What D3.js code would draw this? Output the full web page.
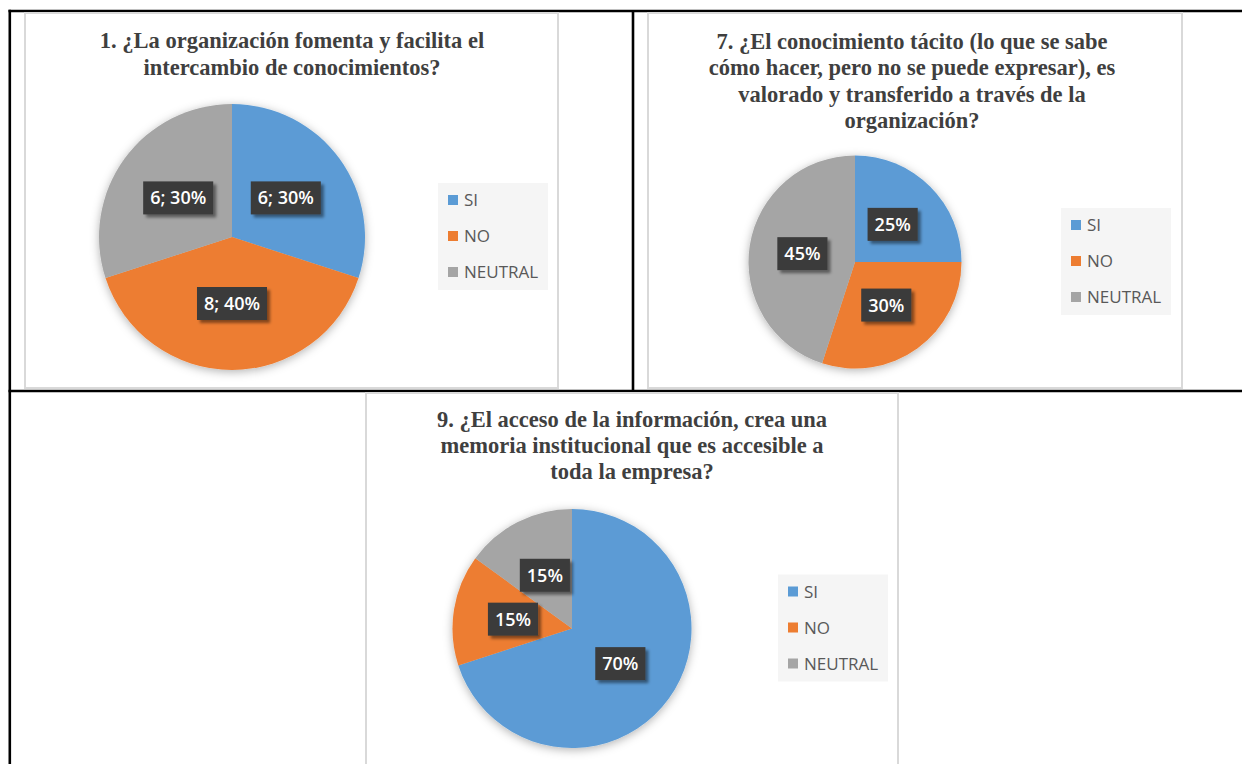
<!DOCTYPE html>
<html>
<head>
<meta charset="utf-8">
<script src="https://cdn.jsdelivr.net/npm/d3@7"></script>
<style>
  html, body { margin: 0; padding: 0; background: #fff; }
  svg { display: block; }
</style>
</head>
<body>
<svg id="sheet" width="1242" height="764"></svg>
<script>
// Answer categories shared by the three survey questions
const categories = ["SI", "NO", "NEUTRAL"];
const sliceColors = ["#5b9bd5", "#ed7d31", "#a5a5a5"];

// Question 1: respondent counts
const q1Title = ["1. ¿La organización fomenta y facilita el", "intercambio de conocimientos?"];
const q1Counts = [6, 8, 6];

// Question 7: percentages
const q7Title = [
  "7. ¿El conocimiento tácito (lo que se sabe",
  "cómo hacer, pero no se puede expresar), es",
  "valorado y transferido a través de la",
  "organización?"
];
const q7Percent = [25, 30, 45];

// Question 9: percentages
const q9Title = [
  "9. ¿El acceso de la información, crea una",
  "memoria institucional que es accesible a",
  "toda la empresa?"
];
const q9Percent = [70, 15, 15];

const svg = d3.select("#sheet");
const defs = svg.append("defs");

// soft halo under each pie
defs.append("filter").attr("id", "pieShadow")
  .attr("x", "-20%").attr("y", "-20%").attr("width", "140%").attr("height", "140%")
  .append("feDropShadow")
  .attr("dx", 0).attr("dy", 2).attr("stdDeviation", 5)
  .attr("flood-color", "#000").attr("flood-opacity", 0.3);

// offset shadow under the dark data-label boxes
defs.append("filter").attr("id", "labelShadow")
  .attr("x", "-20%").attr("y", "-30%").attr("width", "150%").attr("height", "170%")
  .append("feDropShadow")
  .attr("dx", 3).attr("dy", 3).attr("stdDeviation", 1.6)
  .attr("flood-color", "#000").attr("flood-opacity", 0.45);

// ---- table cell borders ----
const tableLines = svg.append("g").attr("stroke", "#000").attr("stroke-width", 2.6);
tableLines.append("line").attr("x1", 8.5).attr("x2", 1242).attr("y1", 11).attr("y2", 11);
tableLines.append("line").attr("x1", 9.8).attr("x2", 9.8).attr("y1", 9.7).attr("y2", 764);
tableLines.append("line").attr("x1", 8.5).attr("x2", 1242).attr("y1", 391).attr("y2", 391);
tableLines.append("line").attr("x1", 633).attr("x2", 633).attr("y1", 11).attr("y2", 391);

// ---- one pie chart panel ----
function drawPie(cfg) {
  const g = svg.append("g");

  // chart frame
  g.append("rect")
    .attr("x", cfg.frame[0]).attr("y", cfg.frame[1])
    .attr("width", cfg.frame[2]).attr("height", cfg.frame[3])
    .attr("fill", "#fff").attr("stroke", "#d9d9d9").attr("stroke-width", 2);

  // title
  const title = g.append("text")
    .attr("x", cfg.titleX)
    .attr("text-anchor", "middle")
    .attr("font-family", "'Liberation Serif', 'Times New Roman', serif")
    .attr("font-weight", "bold")
    .attr("font-size", 22.5)
    .attr("fill", "#3f3f3f");
  cfg.title.forEach((line, i) => {
    title.append("tspan")
      .attr("x", cfg.titleX)
      .attr("y", cfg.titleY + i * cfg.titleGap)
      .text(line);
  });

  const total = d3.sum(cfg.values);
  const pie = d3.pie().sort(null).value(d => d);
  const arcs = pie(cfg.values);
  const arc = d3.arc().innerRadius(0).outerRadius(cfg.r);

  const pg = g.append("g").attr("transform", `translate(${cfg.cx},${cfg.cy})`);
  pg.append("g").attr("filter", "url(#pieShadow)")
    .selectAll("path").data(arcs).join("path")
    .attr("d", arc)
    .attr("fill", (d, i) => sliceColors[i]);

  // data labels
  const lab = pg.selectAll("g.lab").data(arcs).join("g")
    .attr("class", "lab")
    .attr("transform", d => `translate(${arc.centroid(d)})`);
  const box = lab.append("rect")
    .attr("fill", "#3b3b3b")
    .attr("filter", "url(#labelShadow)");
  const txt = lab.append("text")
    .attr("text-anchor", "middle")
    .attr("dy", "0.36em")
    .attr("font-family", "'Open Sans', 'Noto Sans', sans-serif")
    .attr("font-size", 18)
    .attr("font-weight", 600)
    .attr("fill", "#ffffff")
    .text((d, i) => cfg.labelText(d.value, total));
  txt.each(function (d, i) {
    const w = this.getComputedTextLength() + 14;
    d3.select(box.nodes()[i])
      .attr("x", -w / 2).attr("y", -16.5)
      .attr("width", w).attr("height", 33);
  });

  // legend
  const lx = cfg.cx + 206, ly = cfg.cy - 54;
  const lg = g.append("g").attr("transform", `translate(${lx},${ly})`);
  lg.append("rect").attr("width", 110).attr("height", 107).attr("fill", "#f5f5f5");
  const item = lg.selectAll("g.item").data(categories).join("g")
    .attr("class", "item")
    .attr("transform", (d, i) => `translate(0,${17 + i * 36})`);
  item.append("rect")
    .attr("x", 10).attr("y", -5).attr("width", 10).attr("height", 10)
    .attr("fill", (d, i) => sliceColors[i]);
  item.append("text")
    .attr("x", 26).attr("dy", "0.36em")
    .attr("font-family", "'Open Sans', 'Noto Sans', sans-serif")
    .attr("font-size", 17)
    .attr("fill", "#595959")
    .text(d => d);
}

drawPie({
  frame: [25, 13, 533, 375],
  title: q1Title, titleX: 292, titleY: 48, titleGap: 27,
  values: q1Counts,
  labelText: (v, total) => `${v}; ${Math.round(v / total * 100)}%`,
  cx: 232, cy: 237, r: 133
});

drawPie({
  frame: [648, 13, 534, 375],
  title: q7Title, titleX: 912, titleY: 49, titleGap: 26.3,
  values: q7Percent,
  labelText: v => `${v}%`,
  cx: 855, cy: 262, r: 106.5
});

drawPie({
  frame: [366, 393, 532, 380],
  title: q9Title, titleX: 632, titleY: 427, titleGap: 26.2,
  values: q9Percent,
  labelText: v => `${v}%`,
  cx: 572, cy: 628.5, r: 119.5
});
</script>
</body>
</html>
